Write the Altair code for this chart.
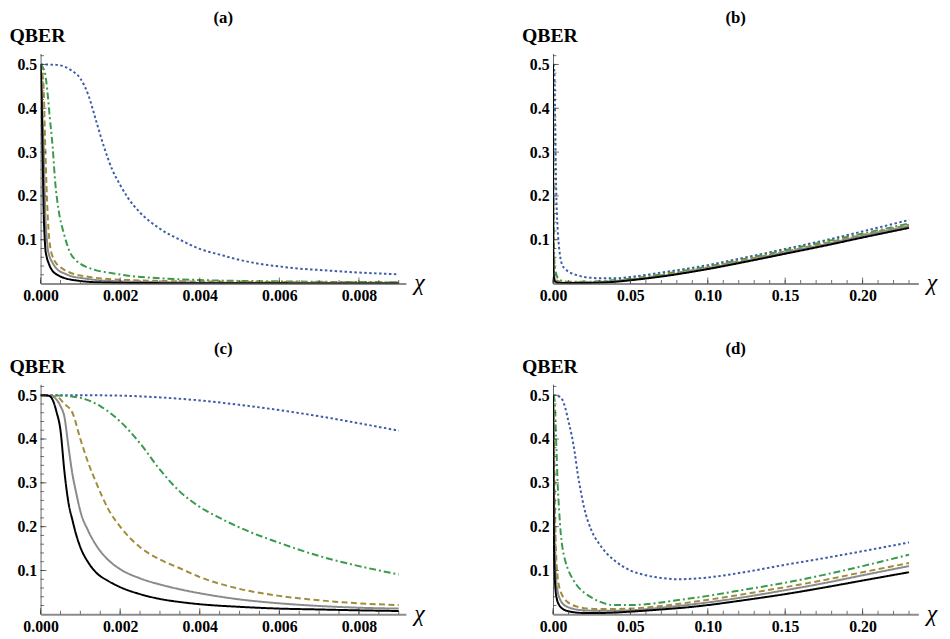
import altair as alt
import pandas as pd

FONT = "Liberation Serif"

# ---------------- Panel (a) ----------------
A_BLACK_X = [0, 0.00002, 0.00005, 0.00008, 0.0001, 0.00012, 0.00015, 0.0002, 0.0003, 0.0004, 0.0005, 0.0007, 0.0009, 0.0012, 0.0016, 0.0025, 0.005, 0.009]
A_BLACK_Y = [0.5, 0.45, 0.30, 0.154, 0.11, 0.079, 0.062, 0.047, 0.029, 0.021, 0.016, 0.010, 0.007, 0.004, 0.0025, 0.0012, 0.0005, 0.0003]
A_GRAY_X = [0, 0.00004, 0.00008, 0.00012, 0.00015, 0.00018, 0.00022, 0.00029, 0.00035, 0.00045, 0.0006, 0.0008, 0.001, 0.0014, 0.002, 0.003, 0.005, 0.009]
A_GRAY_Y = [0.5, 0.40, 0.30, 0.154, 0.11, 0.079, 0.063, 0.049, 0.040, 0.030, 0.023, 0.016, 0.013, 0.008, 0.005, 0.003, 0.0015, 0.0008]
A_OLIVE_X = [0, 0.00007, 0.00012, 0.00015, 0.00018, 0.00021, 0.00025, 0.0003, 0.00037, 0.0005, 0.00062, 0.0008, 0.00115, 0.0016, 0.0022, 0.003, 0.005, 0.007, 0.009]
A_OLIVE_Y = [0.5, 0.458, 0.304, 0.22, 0.154, 0.11, 0.079, 0.062, 0.049, 0.037, 0.030, 0.023, 0.016, 0.011, 0.008, 0.006, 0.004, 0.003, 0.0025]
A_GREEN_X = [0, 0.0001, 0.00017, 0.00023, 0.0003, 0.00037, 0.00045, 0.00058, 0.00074, 0.0009, 0.001, 0.0012, 0.0014, 0.0017, 0.0022, 0.003, 0.004, 0.005, 0.006, 0.007, 0.008, 0.009]
A_GREEN_Y = [0.5, 0.485, 0.44, 0.38, 0.315, 0.229, 0.169, 0.116, 0.071, 0.052, 0.045, 0.036, 0.030, 0.025, 0.018, 0.012, 0.008, 0.006, 0.005, 0.004, 0.0035, 0.003]
A_BLUE_X = [0, 0.0004, 0.0006, 0.0008, 0.001, 0.0012, 0.0014, 0.0016, 0.0018, 0.002, 0.0022, 0.0025, 0.003, 0.0035, 0.004, 0.0045, 0.005, 0.0055, 0.006, 0.0065, 0.007, 0.0075, 0.008, 0.0085, 0.009]
A_BLUE_Y = [0.5, 0.499, 0.495, 0.485, 0.468, 0.43, 0.37, 0.31, 0.26, 0.225, 0.195, 0.162, 0.125, 0.10, 0.079, 0.066, 0.054, 0.045, 0.039, 0.034, 0.031, 0.028, 0.025, 0.023, 0.021]

# ---------------- Panel (b) ----------------
B_BLACK_X = [0, 0.0001, 0.0002, 0.0005, 0.001, 0.003, 0.01, 0.02, 0.03, 0.04, 0.05, 0.07, 0.1, 0.125, 0.15, 0.175, 0.2, 0.23]
B_BLACK_Y = [0.5, 0.11, 0.047, 0.016, 0.006, 0.002, 0.001, 0.0012, 0.002, 0.004, 0.0075, 0.016, 0.033, 0.05, 0.068, 0.086, 0.105, 0.127]
B_GRAY_X = [0, 0.00012, 0.00029, 0.0006, 0.001, 0.002, 0.005, 0.01, 0.02, 0.03, 0.04, 0.05, 0.07, 0.1, 0.125, 0.15, 0.175, 0.2, 0.23]
B_GRAY_Y = [0.5, 0.154, 0.049, 0.023, 0.013, 0.005, 0.002, 0.0015, 0.002, 0.003, 0.005, 0.0085, 0.017, 0.035, 0.052, 0.071, 0.089, 0.109, 0.131]
B_OLIVE_X = [0, 0.00018, 0.00037, 0.0008, 0.0016, 0.003, 0.006, 0.01, 0.02, 0.03, 0.04, 0.05, 0.07, 0.1, 0.125, 0.15, 0.175, 0.2, 0.23]
B_OLIVE_Y = [0.5, 0.154, 0.049, 0.023, 0.011, 0.006, 0.004, 0.003, 0.003, 0.004, 0.006, 0.0095, 0.019, 0.037, 0.055, 0.073, 0.092, 0.111, 0.134]
B_GREEN_X = [0, 0.00023, 0.00045, 0.00074, 0.001, 0.0017, 0.003, 0.006, 0.01, 0.02, 0.03, 0.04, 0.05, 0.07, 0.1, 0.125, 0.15, 0.175, 0.2, 0.23]
B_GREEN_Y = [0.5, 0.38, 0.169, 0.071, 0.045, 0.028, 0.013, 0.006, 0.004, 0.004, 0.005, 0.008, 0.011, 0.021, 0.039, 0.057, 0.076, 0.095, 0.114, 0.137]
B_BLUE_X = [0, 0.0006, 0.001, 0.0014, 0.002, 0.003, 0.004, 0.006, 0.008, 0.01, 0.014, 0.02, 0.025, 0.03, 0.04, 0.05, 0.07, 0.1, 0.125, 0.15, 0.175, 0.2, 0.23]
B_BLUE_Y = [0.5, 0.495, 0.468, 0.37, 0.225, 0.125, 0.08, 0.042, 0.033, 0.027, 0.021, 0.015, 0.013, 0.012, 0.012, 0.015, 0.025, 0.042, 0.06, 0.079, 0.098, 0.119, 0.145]

# ---------------- Panel (c) ----------------
C_BLACK_X = [0, 0.0002, 0.0003, 0.0004, 0.0005, 0.0006, 0.0007, 0.0008, 0.0009, 0.001, 0.0012, 0.0014, 0.0017, 0.002, 0.0025, 0.003, 0.0035, 0.004, 0.005, 0.006, 0.007, 0.008, 0.009]
C_BLACK_Y = [0.5, 0.499, 0.49, 0.462, 0.42, 0.325, 0.255, 0.215, 0.18, 0.153, 0.118, 0.095, 0.076, 0.062, 0.046, 0.035, 0.028, 0.023, 0.017, 0.013, 0.011, 0.009, 0.0075]
C_GRAY_X = [0, 0.0003, 0.0004, 0.0005, 0.0006, 0.0007, 0.0008, 0.0009, 0.001, 0.0012, 0.0014, 0.0017, 0.002, 0.0025, 0.003, 0.0035, 0.004, 0.005, 0.006, 0.007, 0.008, 0.009]
C_GRAY_Y = [0.5, 0.497, 0.49, 0.475, 0.45, 0.383, 0.32, 0.275, 0.235, 0.19, 0.157, 0.124, 0.103, 0.082, 0.068, 0.057, 0.048, 0.034, 0.025, 0.019, 0.015, 0.013]
C_OLIVE_X = [0, 0.0004, 0.0006, 0.0008, 0.001, 0.0012, 0.0014, 0.0017, 0.002, 0.0025, 0.003, 0.0035, 0.004, 0.005, 0.006, 0.007, 0.008, 0.009]
C_OLIVE_Y = [0.5, 0.497, 0.48, 0.46, 0.40, 0.345, 0.30, 0.24, 0.20, 0.153, 0.125, 0.105, 0.085, 0.058, 0.042, 0.032, 0.025, 0.021]
C_GREEN_X = [0, 0.0005, 0.001, 0.0015, 0.002, 0.0025, 0.003, 0.0035, 0.004, 0.0045, 0.005, 0.006, 0.007, 0.008, 0.009]
C_GREEN_Y = [0.5, 0.499, 0.494, 0.475, 0.44, 0.39, 0.33, 0.28, 0.245, 0.22, 0.198, 0.163, 0.133, 0.11, 0.091]
C_BLUE_X = [0, 0.001, 0.002, 0.003, 0.004, 0.005, 0.006, 0.007, 0.008, 0.009]
C_BLUE_Y = [0.5, 0.5, 0.499, 0.495, 0.488, 0.478, 0.466, 0.452, 0.436, 0.419]

# ---------------- Panel (d) ----------------
D_BLACK_X = [0, 0.0002, 0.0004, 0.0006, 0.001, 0.0017, 0.0025, 0.004, 0.006, 0.01, 0.015, 0.02, 0.03, 0.04, 0.05, 0.07, 0.09, 0.1, 0.125, 0.15, 0.175, 0.2, 0.23]
D_BLACK_Y = [0.5, 0.40, 0.25, 0.167, 0.10, 0.053, 0.035, 0.021, 0.013, 0.007, 0.004, 0.003, 0.003, 0.004, 0.006, 0.011, 0.017, 0.021, 0.033, 0.046, 0.061, 0.077, 0.096]
D_GRAY_X = [0, 0.0003, 0.0006, 0.001, 0.0015, 0.002, 0.003, 0.004, 0.005, 0.007, 0.01, 0.015, 0.02, 0.03, 0.04, 0.05, 0.07, 0.1, 0.125, 0.15, 0.175, 0.2, 0.23]
D_GRAY_Y = [0.5, 0.42, 0.30, 0.17, 0.11, 0.08, 0.052, 0.039, 0.031, 0.022, 0.016, 0.011, 0.009, 0.008, 0.008, 0.009, 0.015, 0.027, 0.04, 0.055, 0.071, 0.089, 0.11]
D_OLIVE_X = [0, 0.0005, 0.001, 0.0015, 0.002, 0.003, 0.004, 0.005, 0.007, 0.009, 0.012, 0.016, 0.02, 0.03, 0.04, 0.05, 0.07, 0.1, 0.125, 0.15, 0.175, 0.2, 0.23]
D_OLIVE_Y = [0.5, 0.45, 0.30, 0.20, 0.14, 0.085, 0.063, 0.051, 0.037, 0.029, 0.022, 0.017, 0.014, 0.012, 0.012, 0.013, 0.019, 0.033, 0.047, 0.062, 0.078, 0.096, 0.117]
D_GREEN_X = [0, 0.001, 0.002, 0.003, 0.004, 0.005, 0.006, 0.008, 0.01, 0.0125, 0.015, 0.02, 0.025, 0.03, 0.035, 0.04, 0.05, 0.06, 0.07, 0.08, 0.1, 0.125, 0.15, 0.175, 0.2, 0.23]
D_GREEN_Y = [0.5, 0.49, 0.40, 0.30, 0.235, 0.185, 0.155, 0.121, 0.10, 0.082, 0.068, 0.05, 0.038, 0.029, 0.023, 0.021, 0.021, 0.023, 0.027, 0.032, 0.042, 0.057, 0.072, 0.09, 0.11, 0.136]
D_BLUE_X = [0, 0.004, 0.006, 0.008, 0.01, 0.012, 0.014, 0.016, 0.018, 0.02, 0.025, 0.03, 0.035, 0.04, 0.05, 0.06, 0.07, 0.08, 0.09, 0.1, 0.125, 0.15, 0.175, 0.2, 0.23]
D_BLUE_Y = [0.5, 0.497, 0.49, 0.47, 0.44, 0.41, 0.37, 0.32, 0.28, 0.245, 0.19, 0.16, 0.138, 0.122, 0.100, 0.089, 0.083, 0.080, 0.081, 0.084, 0.097, 0.113, 0.128, 0.144, 0.164]

# ---------------- axes ----------------
SMALL_LABELS = [0, 0.002, 0.004, 0.006, 0.008]
SMALL_MINOR = [i * 0.0005 for i in range(19)]
WIDE_LABELS = [0, 0.05, 0.10, 0.15, 0.20]
WIDE_MINOR = [i * 0.01 for i in range(24)]
Y_LABELS = [0.1, 0.2, 0.3, 0.4, 0.5]
Y_MINOR = [i * 0.02 for i in range(1, 27)]

STYLE = {
    "black": ("#000000", [1, 0]),
    "gray": ("#8a8a8a", [1, 0]),
    "olive": ("#a08d3a", [6, 3.5]),
    "green": ("#3a9a4c", [7, 3, 2, 3]),
    "blue": ("#3d5ca8", [2.5, 2.5]),
}

W, H = 370, 233
YMAX = 0.525


def panel(title, series, xmax, labels, minor, fmt):
    xs = alt.Scale(domain=[0, xmax], nice=False, zero=False)
    ys = alt.Scale(domain=[0, YMAX], nice=False, zero=False)
    xaxis = alt.Axis(values=labels, format=fmt, ticks=False, grid=False,
                     domainColor="#8c8c8c", domainWidth=2,
                     labelFont=FONT, labelFontSize=16, labelFontWeight="bold",
                     labelColor="black", labelPadding=4, labelFlush=False,
                     labelOverlap=False,
                     title="χ", titleFont=FONT, titleFontSize=24,
                     titleFontStyle="italic", titleFontWeight="normal",
                     titleColor="black", titleX=W + 8, titleY=-1,
                     titleAlign="left", titleBaseline="middle")
    yaxis = alt.Axis(values=Y_LABELS, format=".1f", ticks=False, grid=False,
                     domainColor="#666666", domainWidth=1,
                     labelFont=FONT, labelFontSize=16, labelFontWeight="bold",
                     labelColor="black", labelPadding=4, labelFlush=False,
                     labelOverlap=False,
                     title="QBER", titleFont=FONT, titleFontSize=20,
                     titleFontWeight="bold", titleColor="black",
                     titleAngle=0, titleX=-32, titleY=-12,
                     titleAlign="left", titleBaseline="alphabetic")
    X = alt.X("x:Q", scale=xs, axis=xaxis)
    Y = alt.Y("y:Q", scale=ys, axis=yaxis)

    layers = []
    for name in ["blue", "green", "olive", "gray", "black"]:
        xv, yv = series[name]
        color, dash = STYLE[name]
        df = pd.DataFrame({"x": xv, "y": yv})
        layers.append(
            alt.Chart(df).mark_line(color=color, strokeDash=dash, strokeWidth=2,
                                    interpolate="monotone", clip=True,
                                    strokeCap="butt")
            .encode(x=X, y=Y)
        )

    major_x = pd.DataFrame({"x": labels, "y": [0] * len(labels)})
    minor_x = pd.DataFrame({"x": minor, "y": [0] * len(minor)})
    major_y = pd.DataFrame({"x": [0] * len(Y_LABELS), "y": Y_LABELS})
    minor_y = pd.DataFrame({"x": [0] * len(Y_MINOR), "y": Y_MINOR})
    tick_col = "#333333"
    layers.append(alt.Chart(minor_x).mark_tick(orient="vertical", size=3.5, thickness=1,
                                               yOffset=-1.75, color=tick_col).encode(x=X, y=Y))
    layers.append(alt.Chart(major_x).mark_tick(orient="vertical", size=6, thickness=1,
                                               yOffset=-3, color=tick_col).encode(x=X, y=Y))
    layers.append(alt.Chart(minor_y).mark_tick(orient="horizontal", size=3.5, thickness=1,
                                               xOffset=1.75, color=tick_col).encode(x=X, y=Y))
    layers.append(alt.Chart(major_y).mark_tick(orient="horizontal", size=6, thickness=1,
                                               xOffset=3, color=tick_col).encode(x=X, y=Y))

    return alt.layer(*layers).properties(
        width=W, height=H,
        title=alt.TitleParams(text=title, font=FONT, fontSize=17, fontWeight="bold",
                              color="black", anchor="middle", frame="group", offset=-1),
    )


pa = panel("(a)", {"black": (A_BLACK_X, A_BLACK_Y), "gray": (A_GRAY_X, A_GRAY_Y),
                   "olive": (A_OLIVE_X, A_OLIVE_Y), "green": (A_GREEN_X, A_GREEN_Y),
                   "blue": (A_BLUE_X, A_BLUE_Y)}, 0.00918, SMALL_LABELS, SMALL_MINOR, ".3f")
pb = panel("(b)", {"black": (B_BLACK_X, B_BLACK_Y), "gray": (B_GRAY_X, B_GRAY_Y),
                   "olive": (B_OLIVE_X, B_OLIVE_Y), "green": (B_GREEN_X, B_GREEN_Y),
                   "blue": (B_BLUE_X, B_BLUE_Y)}, 0.236, WIDE_LABELS, WIDE_MINOR, ".2f")
pc = panel("(c)", {"black": (C_BLACK_X, C_BLACK_Y), "gray": (C_GRAY_X, C_GRAY_Y),
                   "olive": (C_OLIVE_X, C_OLIVE_Y), "green": (C_GREEN_X, C_GREEN_Y),
                   "blue": (C_BLUE_X, C_BLUE_Y)}, 0.00918, SMALL_LABELS, SMALL_MINOR, ".3f")
pd_ = panel("(d)", {"black": (D_BLACK_X, D_BLACK_Y), "gray": (D_GRAY_X, D_GRAY_Y),
                    "olive": (D_OLIVE_X, D_OLIVE_Y), "green": (D_GREEN_X, D_GREEN_Y),
                    "blue": (D_BLUE_X, D_BLUE_Y)}, 0.236, WIDE_LABELS, WIDE_MINOR, ".2f")

chart = alt.concat(pa, pb, pc, pd_, columns=2,
                   spacing=alt.RowColnumber(row=102, column=149),
                   bounds="flush").properties(
    padding={"left": 1, "top": -3, "right": 5, "bottom": 5},
    background="white",
).configure_view(stroke=None)

chart.save("out.html", embed_options={"renderer": "svg", "actions": False})
